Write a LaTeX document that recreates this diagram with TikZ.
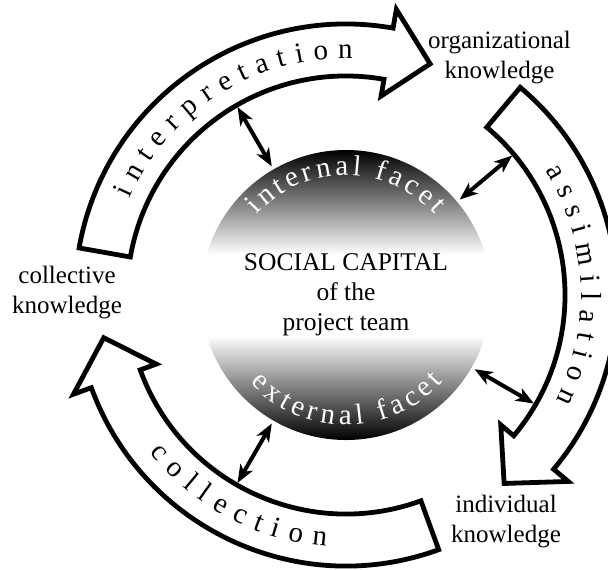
\documentclass[tikz,border=0pt]{standalone}
\usepackage{fontspec}
\setmainfont{Liberation Serif}
\usepackage{tikz}
\usetikzlibrary{calc,decorations.text,arrows.meta}

\pgfdeclareverticalshading{facetshade}{100bp}{color(0bp)=(black); color(25bp)=(black); color(43bp)=(white); color(57bp)=(white); color(75bp)=(black); color(100bp)=(black)}

\begin{document}
\begin{tikzpicture}[x=0.5pt,y=0.5pt,
	band/.style={draw=black, fill=white, line width=2.4pt},
	twoway/.style={line width=2pt, {Stealth[length=9pt,width=7pt,inset=2.5pt]}-{Stealth[length=9pt,width=7pt,inset=2.5pt]}},
	knowledge/.style={align=center, font=\fontsize{12.5}{15}\selectfont}]
	\newcommand{\bandIn}{219}
	\newcommand{\bandOut}{271}
	\newcommand{\barbIn}{202}
	\newcommand{\barbOut}{290}
	\newcommand{\tipR}{246}
	\newcommand{\bigFont}{\fontsize{14.5}{17}\selectfont}

	\useasboundingbox (-346,-274) rectangle (262,295);

	% draw the three process arrows
	\foreach \rot in {0,-120,120} {
		\begin{scope}[rotate=\rot]
			\draw[band] (170:\bandOut) arc[start angle=170, end angle=80, radius=\bandOut]
				-- (80:\barbOut) -- (70:\tipR) -- (80:\barbIn) -- (80:\bandIn)
				arc[start angle=80, end angle=170, radius=\bandIn] -- cycle;
		\end{scope}
	}

	% arrow texts
	\path[decorate, decoration={text along path, text align={fit to path}, text={|\bigFont|interpretation}}]
		(156:237) arc[start angle=156, end angle=88.4, radius=237];
	\path[decorate, decoration={text along path, text align={fit to path}, text={|\bigFont|assimilation}}]
		(32:235) arc[start angle=32, end angle=-26.6, radius=235];
	\path[decorate, decoration={text along path, text align={fit to path}, text={|\bigFont|collection}}]
		(218.6:252) arc[start angle=218.6, end angle=265.5, radius=252];

	% social capital
	\node[circle, minimum size=145pt, shade, shading=facetshade, knowledge, font=\fontsize{12.75}{15}\selectfont] (team) at (0,0) {SOCIAL CAPITAL\\of the\\project team};
	\path[decorate, decoration={text along path, text color=white, text align={fit to path}, text={|\bigFont|internal facet}}]
		(138:120) arc[start angle=138, end angle=42, radius=120];
	\path[decorate, decoration={text along path, text color=white, text align={fit to path}, text={|\bigFont|external facet}}]
		(222.5:130) arc[start angle=222.5, end angle=318.5, radius=130];

	% links between team and processes
	\foreach \a in {120,40,330,240} {
		\coordinate (band\a) at (\a:217);
		\draw[twoway, shorten <=1.5pt] (team.\a) -- (band\a);
	}

	% knowledge levels
	\node[knowledge] (orgKnow) at (153.5,237.3) {organizational\\knowledge};
	\node[knowledge] (colKnow) at (-279,2) {collective\\knowledge};
	\node[knowledge] (indKnow) at (160,-227) {individual\\knowledge};
\end{tikzpicture}
\end{document}
